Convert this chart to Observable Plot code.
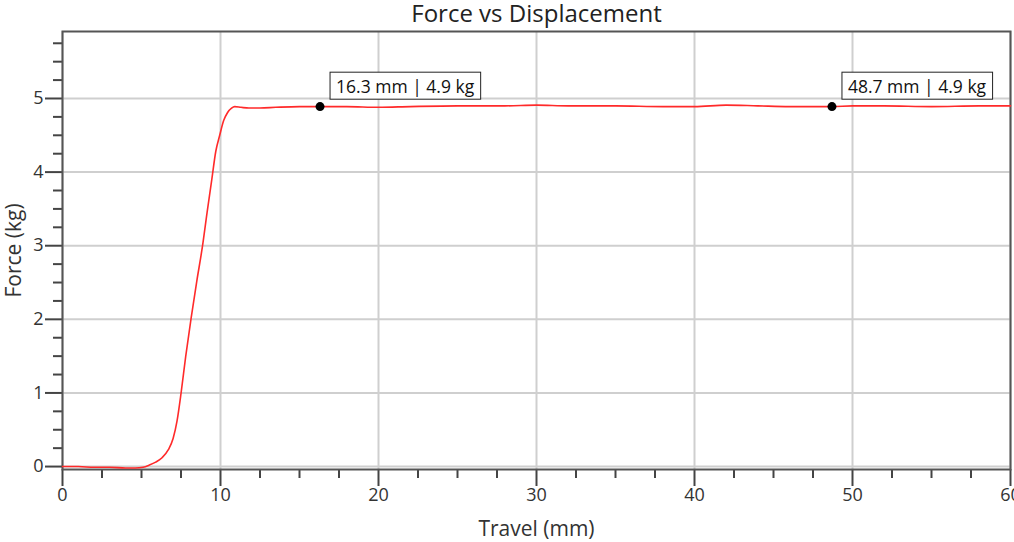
<!DOCTYPE html>
<html>
<head>
<meta charset="utf-8">
<script src="https://cdn.jsdelivr.net/npm/d3@7"></script>
<script src="https://cdn.jsdelivr.net/npm/@observablehq/plot@0.6"></script>
<style>
  html, body { margin: 0; padding: 0; background: #fff; }
  svg { display: block; }
</style>
</head>
<body>
<div id="chart"></div>
<script>
const chartTitle = "Force vs Displacement";
const travel = [0, 1, 2, 3, 4, 4.6, 5.1, 5.5, 5.9, 6.3, 6.7, 7.0, 7.25, 7.5, 7.8, 8.15, 8.5, 8.85, 9.15, 9.45, 9.7, 9.95, 10.2, 10.45, 10.7, 10.9, 11.3, 11.8, 12.5, 13.5, 15, 16.3, 18, 20, 22, 25, 28, 30, 32, 35, 38, 40, 42, 44, 46, 48.7, 50, 52, 55, 58, 60];
const force  = [0.0, 0.0, -0.01, -0.01, -0.02, -0.02, -0.01, 0.02, 0.06, 0.12, 0.23, 0.38, 0.62, 0.99, 1.5, 2.03, 2.52, 2.98, 3.45, 3.9, 4.28, 4.5, 4.7, 4.81, 4.87, 4.89, 4.88, 4.87, 4.87, 4.88, 4.89, 4.89, 4.89, 4.88, 4.89, 4.9, 4.9, 4.91, 4.9, 4.9, 4.89, 4.89, 4.91, 4.9, 4.89, 4.89, 4.9, 4.9, 4.89, 4.9, 4.9];

const xMajor = [0, 10, 20, 30, 40, 50, 60];
const xMinor = d3.range(0, 60.01, 2.5).filter(v => v % 10 !== 0);
const yMajor = [0, 1, 2, 3, 4, 5];
const yMinor = d3.range(0, 5.9, 0.25).filter(v => v % 1 !== 0);

const markX = [16.3, 48.7];
const markY = [4.89, 4.89];
const markLabel = ["16.3 mm | 4.9 kg", "48.7 mm | 4.9 kg"];

const curve = travel.map((t, i) => ({travel: t, force: force[i]}));
const marks = markX.map((x, i) => ({x, y: markY[i], label: markLabel[i]}));

const axisColor = "#444";
const font = "'Open Sans', 'Noto Sans', sans-serif";

const chart = Plot.plot({
  width: 1014,
  height: 542,
  marginTop: 31,
  marginBottom: 73,
  marginLeft: 62,
  marginRight: 4,
  style: {fontFamily: font, fontSize: "18px", color: "#333", background: "#fff"},
  x: {domain: [0, 60], label: null},
  y: {domain: [-0.04, 5.91], label: null},
  marks: [
    Plot.gridX(xMajor, {stroke: "#cfcfcf", strokeOpacity: 1, strokeWidth: 2}),
    Plot.gridY(yMajor, {stroke: "#cfcfcf", strokeOpacity: 1, strokeWidth: 2}),
    Plot.axisX(xMinor, {tickSize: 9, text: null, stroke: axisColor, strokeWidth: 2}),
    Plot.axisX(xMajor, {tickSize: 17, tickPadding: 2, stroke: axisColor, strokeWidth: 2, fill: "#333", fontSize: 18,
      tickFormat: d => String(d),
      label: "Travel (mm)", labelAnchor: "center", labelArrow: "none", labelOffset: 66}),
    Plot.axisY(yMinor, {tickSize: 9, text: null, stroke: axisColor, strokeWidth: 2}),
    Plot.axisY(yMajor, {tickSize: 17, tickPadding: 2, stroke: axisColor, strokeWidth: 2, fill: "#333", fontSize: 18,
      tickFormat: d => String(d),
      label: "Force (kg)", labelAnchor: "center", labelArrow: "none", labelOffset: 56}),
    Plot.frame({stroke: "#555", strokeWidth: 2}),
    Plot.line(curve, {x: "travel", y: "force", stroke: "#ff2a2a", strokeWidth: 1.6, curve: "monotone-x"}),
    Plot.dot(marks, {x: "x", y: "y", r: 4.5, fill: "black"}),
    Plot.text(marks, {x: "x", y: "y", text: "label", textAnchor: "start", lineAnchor: "middle", dx: 16, dy: -19,
      fontSize: 17, fill: "#111", fontFamily: font}),
    Plot.text([chartTitle], {frameAnchor: "top", text: d => d, lineAnchor: "middle", dy: -17,
      fontSize: 24, fill: "#222", fontFamily: font})
  ]
});
chart.querySelectorAll("g[aria-label='x-axis label'] text, g[aria-label='y-axis label'] text").forEach(t => {
  t.setAttribute("font-size", "21");
  t.style.fontSize = "21px";
});
document.getElementById("chart").appendChild(chart);
// draw boxes behind annotation texts
const annTexts = Array.from(chart.querySelectorAll("text")).filter(t => markLabel.includes(t.textContent));
annTexts.forEach(t => {
  t.style.fontSize = "17.5px";
  const b = t.getBBox();
  const rect = document.createElementNS("http://www.w3.org/2000/svg", "rect");
  const tr = t.getAttribute("transform");
  if (tr) rect.setAttribute("transform", tr);
  rect.setAttribute("x", b.x - 6);
  rect.setAttribute("y", b.y - 2);
  rect.setAttribute("width", b.width + 12);
  rect.setAttribute("height", b.height + 3);
  rect.setAttribute("fill", "white");
  rect.setAttribute("stroke", "#222");
  rect.setAttribute("stroke-width", "1");
  t.parentNode.insertBefore(rect, t);
});
</script>
</body>
</html>
